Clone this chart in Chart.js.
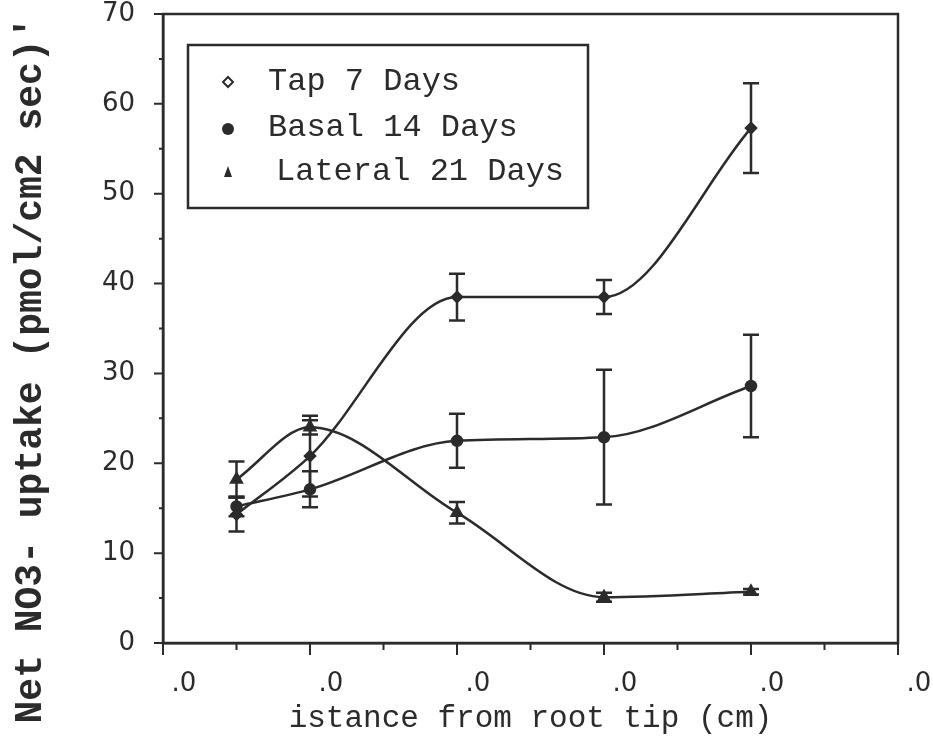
<!DOCTYPE html>
<html>
<head>
<meta charset="utf-8">
<script src="https://cdn.jsdelivr.net/npm/chart.js@4"></script>
<style>
  html, body { margin: 0; padding: 0; background: #ffffff; }
  #wrap { width: 933px; height: 740px; }
</style>
</head>
<body>
<div id="wrap"><canvas id="c" width="933" height="740"></canvas></div>
<script>
// ---- data ----
const xValues = [0.5, 1, 2, 3, 4];
const tapMean = [14.3, 20.8, 38.5, 38.5, 57.3];
const tapErr = [1.9, 4.5, 2.6, 1.9, 5.0];
const basalMean = [15.2, 17.1, 22.5, 22.9, 28.6];
const basalErr = [1.1, 2.0, 3.0, 7.5, 5.7];
const lateralMean = [18.2, 24.0, 14.5, 5.1, 5.7];
const lateralErr = [2.0, 0.8, 1.2, 0.5, 0.3];
const seriesLabels = ['Tap 7 Days', 'Basal 14 Days', 'Lateral 21 Days'];
const xTickLabels = ['.0', '.0', '.0', '.0', '.0', '.0'];
const yTitle = "Net NO3- uptake (pmol/cm2 sec)'";
const xTitle = 'istance from root tip (cm)';

const INK = '#2b2b2b';
const toPts = (means) => xValues.map((x, i) => ({ x: x, y: means[i] }));
const errors = [tapErr, basalErr, lateralErr];

const errorBars = {
  id: 'errorBars',
  afterDatasetsDraw(chart) {
    const ctx = chart.ctx, xs = chart.scales.x, ys = chart.scales.y;
    ctx.save();
    ctx.strokeStyle = INK;
    ctx.lineWidth = 2.5;
    chart.data.datasets.forEach((ds, d) => {
      ds.data.forEach((p, i) => {
        const e = errors[d][i];
        const px = xs.getPixelForValue(p.x);
        const yt = ys.getPixelForValue(p.y + e);
        const yb = ys.getPixelForValue(p.y - e);
        ctx.beginPath();
        ctx.moveTo(px, yt); ctx.lineTo(px, yb);
        ctx.moveTo(px - 8, yt); ctx.lineTo(px + 8, yt);
        ctx.moveTo(px - 8, yb); ctx.lineTo(px + 8, yb);
        ctx.stroke();
      });
    });
    ctx.restore();
  }
};

const frameAndTicks = {
  id: 'frameAndTicks',
  afterDraw(chart) {
    const ctx = chart.ctx, a = chart.chartArea, xs = chart.scales.x, ys = chart.scales.y;
    ctx.save();
    ctx.strokeStyle = INK;
    ctx.lineWidth = 2.5;
    ctx.strokeRect(a.left, a.top, a.right - a.left, a.bottom - a.top);
    ctx.lineWidth = 2;
    ctx.beginPath();
    for (let v = ys.min; v <= ys.max + 1e-9; v += 5) {
      const py = ys.getPixelForValue(v);
      const len = (Math.round(v) % 10 === 0) ? 9 : 4;
      ctx.moveTo(a.left - len, py); ctx.lineTo(a.left, py);
    }
    for (let v = xs.min; v <= xs.max + 1e-9; v += 0.5) {
      const px = xs.getPixelForValue(v);
      const len = (Math.abs(v - Math.round(v)) < 1e-9) ? 12 : 7;
      ctx.moveTo(px, a.bottom); ctx.lineTo(px, a.bottom + len);
    }
    ctx.stroke();

    // y title
    ctx.fillStyle = INK;
    ctx.font = 'bold 38px "Liberation Mono"';
    ctx.textAlign = 'center';
    ctx.textBaseline = 'middle';
    ctx.translate(31, 370);
    ctx.rotate(-Math.PI / 2);
    ctx.fillText(yTitle, 0, 0);
    ctx.restore();

    // legend box
    ctx.save();
    ctx.strokeStyle = INK;
    ctx.fillStyle = INK;
    ctx.lineWidth = 2.5;
    ctx.strokeRect(188, 45, 400, 163);
    const rows = [82, 128, 172];
    ctx.font = '32px "Liberation Mono"';
    ctx.textAlign = 'left';
    ctx.textBaseline = 'middle';
    chart.data.datasets.forEach((ds, d) => {
      const y = rows[d], mx = 228;
      ctx.beginPath();
      if (d === 0) {
        ctx.lineWidth = 2;
        ctx.moveTo(mx, y - 5); ctx.lineTo(mx + 5, y); ctx.lineTo(mx, y + 5); ctx.lineTo(mx - 5, y); ctx.closePath();
        ctx.stroke();
      } else if (d === 1) {
        ctx.arc(mx, y + 1, 6, 0, Math.PI * 2);
        ctx.fill();
      } else {
        ctx.moveTo(mx, y - 6); ctx.lineTo(mx + 4, y + 5); ctx.lineTo(mx - 4, y + 5); ctx.closePath();
        ctx.fill();
      }
      ctx.fillText(ds.label, d === 2 ? 276 : 268, y);
    });
    ctx.restore();
  }
};

new Chart(document.getElementById('c'), {
  type: 'line',
  data: {
    datasets: [
      { label: seriesLabels[0], data: toPts(tapMean), pointStyle: 'rectRot', pointRadius: 5 },
      { label: seriesLabels[1], data: toPts(basalMean), pointStyle: 'circle', pointRadius: 5 },
      { label: seriesLabels[2], data: toPts(lateralMean), pointStyle: 'triangle', pointRadius: 6 }
    ].map(ds => Object.assign(ds, {
      borderColor: INK, backgroundColor: INK, borderWidth: 2.5,
      pointBackgroundColor: INK, pointBorderColor: INK,
      cubicInterpolationMode: 'monotone', fill: false
    }))
  },
  options: {
    responsive: false,
    animation: false,
    events: [],
    layout: { padding: { left: 0, top: 14, right: 35, bottom: 0 } },
    plugins: { legend: { display: false }, tooltip: { enabled: false } },
    scales: {
      x: {
        type: 'linear', min: 0, max: 5,
        afterFit(s) { s.height = 97; s.paddingLeft = 0; s.paddingRight = 0; },
        afterBuildTicks(s) { s.ticks = [0, 1, 2, 3, 4, 5].map(v => ({ value: v })); },
        grid: { display: false, drawTicks: false },
        border: { display: true, color: INK, width: 2.5 },
        ticks: {
          autoSkip: false, maxRotation: 0, padding: 26, labelOffset: 21,
          color: INK, font: { family: 'DejaVu Sans', size: 26 },
          callback: (v, i) => xTickLabels[i]
        },
        title: {
          display: true, text: xTitle, color: INK,
          font: { family: 'Liberation Mono', size: 31 },
          padding: { top: 0, bottom: 3 }
        }
      },
      y: {
        min: 0, max: 70,
        afterFit(s) { s.width = 163; s.paddingTop = 0; s.paddingBottom = 0; },
        grid: { display: false, drawTicks: false },
        border: { display: true, color: INK, width: 2.5 },
        ticks: {
          stepSize: 10, padding: 28, color: INK,
          font: { family: 'DejaVu Sans', size: 26 }
        }
      }
    }
  },
  plugins: [errorBars, frameAndTicks]
});
</script>
</body>
</html>
